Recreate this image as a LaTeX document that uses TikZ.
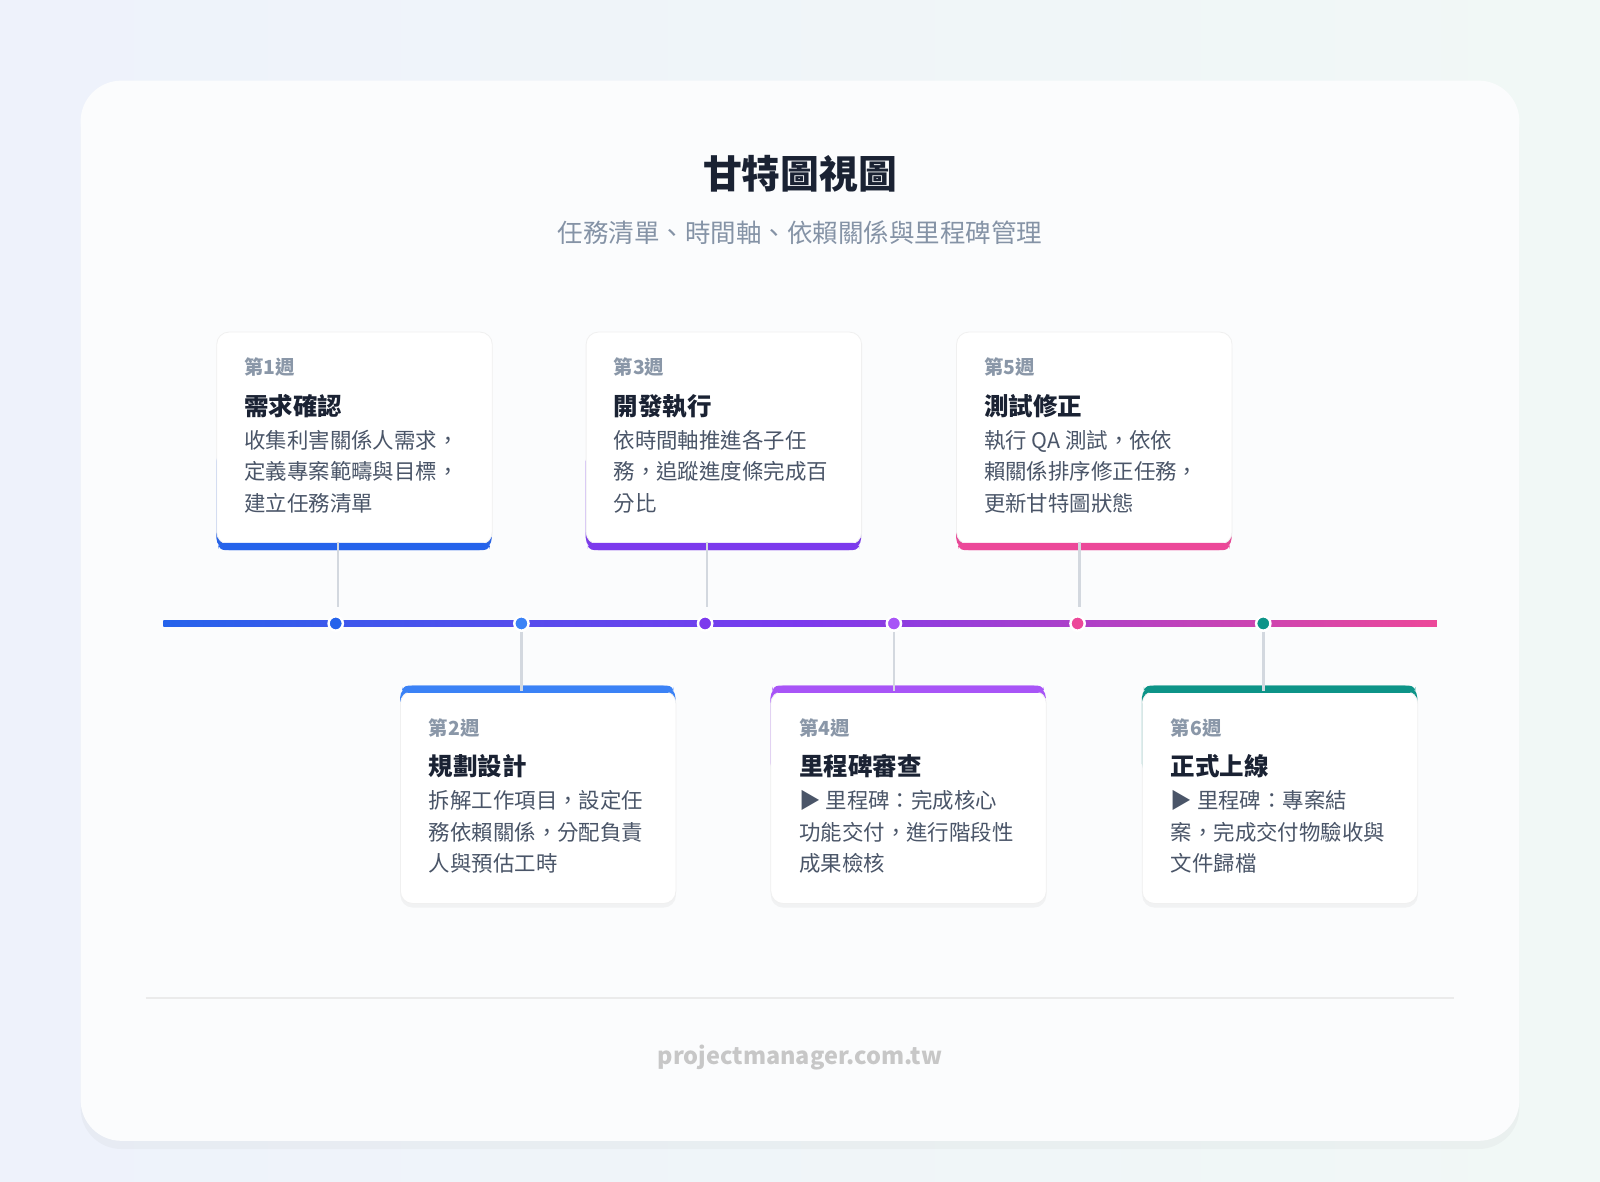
\documentclass[tikz,border=0pt]{standalone}
\usepackage{fontspec}
\setmainfont{Noto Sans CJK TC}
\usetikzlibrary{shadows}
\definecolor{bgA}{HTML}{EEF2FB}
\definecolor{bgB}{HTML}{F1F8F6}
\definecolor{cardbg}{HTML}{FBFCFD}
\definecolor{ttl}{HTML}{1A2233}
\definecolor{sub}{HTML}{8593A6}
\definecolor{body}{HTML}{4A5568}
\definecolor{wk}{HTML}{8A97A8}
\definecolor{cA}{HTML}{2563EB}
\definecolor{cB}{HTML}{3B82F6}
\definecolor{cC}{HTML}{7C3AED}
\definecolor{cD}{HTML}{A855F7}
\definecolor{cE}{HTML}{EC4899}
\definecolor{cF}{HTML}{0D9488}
\definecolor{lnk}{HTML}{D3D8DF}
\begin{document}
\begin{tikzpicture}[x=0.5pt,y=-0.5pt,
  card/.style={draw=black!6,fill=white,rounded corners=6pt,minimum width=135pt,minimum height=104pt,inner sep=0pt,drop shadow={opacity=0.08,shadow xshift=0pt,shadow yshift=-2pt}},
  dot/.style={circle,draw=white,line width=1.2pt,fill=#1,minimum size=7pt,inner sep=0pt},
  link/.style={draw=lnk,line width=1.2pt},
  wkl/.style={anchor=west,font=\bfseries\fontsize{9.5}{11}\selectfont,text=wk,inner sep=0pt},
  hd/.style={anchor=west,font=\bfseries\fontsize{12}{14}\selectfont,text=ttl,inner sep=0pt},
  bd/.style={anchor=north west,align=left,font=\fontsize{10.5}{15.5}\selectfont,text=body,inner sep=0pt}]
\useasboundingbox (0,0) rectangle (1568,1158);
\shade[left color=bgA,right color=bgB] (0,0) rectangle (1568,1158);
\node[fill=cardbg,rounded corners=20pt,minimum width=705pt,minimum height=519.5pt,inner sep=0pt,drop shadow={opacity=0.06,shadow xshift=0pt,shadow yshift=-4pt}] (main) at (784,598.5) {};
\node[font=\bfseries\fontsize{19}{22}\selectfont,text=ttl] (title) at (784,170) {甘特圖視圖};
\node[font=\fontsize{12.5}{15}\selectfont,text=sub] (subt) at (784,228) {任務清單、時間軸、依賴關係與里程碑管理};
% timeline
\shade[left color=cA,right color=cE,middle color=cC] (160,608.5) rectangle (1408,613.5);
\node[dot=cA] (d1) at (329,611) {};
\node[dot=cB] (d2) at (511,611) {};
\node[dot=cC] (d3) at (691,611) {};
\node[dot=cD] (d4) at (876,611) {};
\node[dot=cE] (d5) at (1056,611) {};
\node[dot=cF] (d6) at (1238,611) {};
% top cards
\foreach \n/\x/\c in {c1/212/cA,c3/574/cC,c5/937/cE}{
  \fill[\c,rounded corners=6pt] (\x,440) rectangle (\x+270,539);
  \node[card,anchor=north west] (\n) at (\x,325) {};
  \fill[\c,rounded corners=3pt] (\x+2,532) rectangle (\x+268,539);
}
\foreach \n/\x/\c in {c2/392/cB,c4/755/cD,c6/1119/cF}{
  \fill[\c,rounded corners=6pt] (\x,672) rectangle (\x+270,760);
  \node[card,anchor=north west] (\n) at (\x,677) {};
  \fill[\c,rounded corners=3pt] (\x+2,672) rectangle (\x+268,679);
}
\coordinate (t1) at (331,595); \coordinate (t3) at (693,595); \coordinate (t5) at (1058,595);
\draw[link] (c1.south -| t1) ++(0,-3) -- (t1);
\draw[link] (c3.south -| t3) ++(0,-3) -- (t3);
\draw[link] (c5.south -| t5) ++(0,-3) -- (t5);
\draw[link] (d2) -- (c2.north -| d2);
\draw[link] (d4) -- (c4.north -| d4);
\draw[link] (d6) -- (c6.north -| d6);
% texts
\node[wkl] at (239,360) {第1週};
\node[hd] at (239,398) {需求確認};
\node[bd] at (239,421) {收集利害關係人需求，\\定義專案範疇與目標，\\建立任務清單};
\node[wkl] at (601,360) {第3週};
\node[hd] at (601,398) {開發執行};
\node[bd] at (601,421) {依時間軸推進各子任\\務，追蹤進度條完成百\\分比};
\node[wkl] at (964,360) {第5週};
\node[hd] at (964,398) {測試修正};
\node[bd] at (964,421) {執行 QA 測試，依依\\賴關係排序修正任務，\\更新甘特圖狀態};
\node[wkl] at (420,713) {第2週};
\node[hd] at (420,751) {規劃設計};
\node[bd] at (420,774) {拆解工作項目，設定任\\務依賴關係，分配負責\\人與預估工時};
\node[wkl] at (783,713) {第4週};
\node[hd] at (783,751) {里程碑審查};
\node[bd] at (783,774) {▶ 里程碑：完成核心\\功能交付，進行階段性\\成果檢核};
\node[wkl] at (1147,713) {第6週};
\node[hd] at (1147,751) {正式上線};
\node[bd] at (1147,774) {▶ 里程碑：專案結\\案，完成交付物驗收與\\文件歸檔};
% footer
\coordinate (fl) at (143,978); \coordinate (fr) at (1425,978);
\draw[black!8,line width=0.8pt] (fl) -- (fr);
\node[font=\bfseries\fontsize{11.5}{14}\selectfont,text=black!22] (foot) at (784,1036) {projectmanager.com.tw};
\end{tikzpicture}
\end{document}
